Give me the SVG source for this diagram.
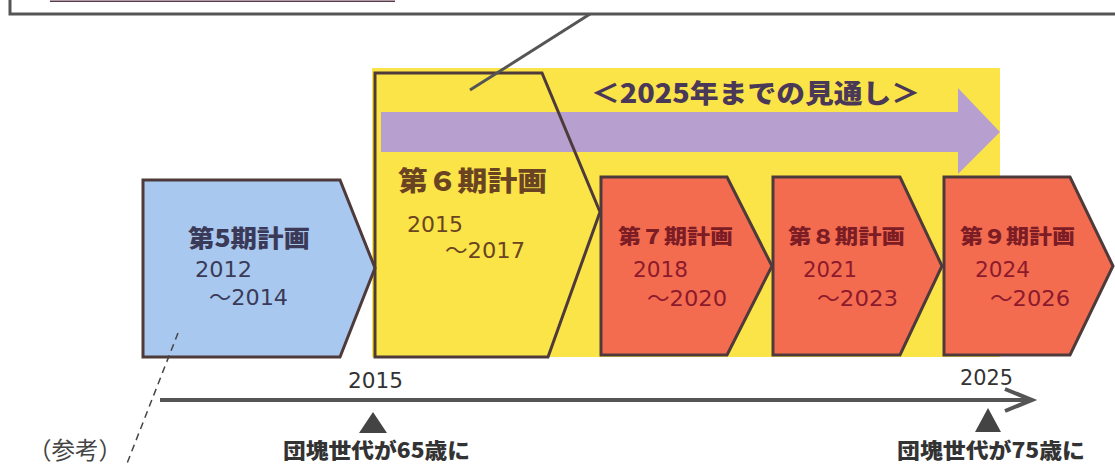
<svg xmlns="http://www.w3.org/2000/svg" width="1115" height="466" viewBox="0 0 1115 466">
<style>
.box{stroke:#4e3a3a;stroke-width:3;stroke-linejoin:miter}
.jp{font-family:"Noto Sans CJK JP","DejaVu Sans",sans-serif}
.num{font-family:"DejaVu Sans","Noto Sans CJK JP",sans-serif}
.b{font-weight:bold}
.h{font-weight:900}
.blueT{fill:#3a3a58}
.yelT{fill:#6a4422}
.redT{fill:#7c1c24}
.redN{fill:#8c1a2c}
.dark{fill:#333}
</style>
<rect width="1115" height="466" fill="#fff"/>
<g id="topbox">
<path d="M10,0 V14 H1115" fill="none" stroke="#555" stroke-width="3"/>
<line x1="50" y1="1.2" x2="395" y2="1.2" stroke="#5a3a4a" stroke-width="1.5"/>
</g>
<g id="outlook">
<rect x="372" y="68" width="628" height="289" fill="#fbe447"/>
<path d="M381,112 H958 V88 L1000,132 L958,174 V152 H381 Z" fill="#b7a0cf"/>
<text x="591" y="103" class="jp h" font-size="26" fill="#4a3858" textLength="329" lengthAdjust="spacingAndGlyphs">＜2025年までの見通し＞</text>
</g>
<g id="plan5">
<path class="box" d="M143,180 H340 L375,268 L340,357 H143 Z" fill="#a9c8ef"/>
<text x="188" y="247" class="jp h blueT" font-size="24" textLength="122" lengthAdjust="spacingAndGlyphs">第5期計画</text>
<text x="195" y="277" class="num blueT" font-size="22" textLength="57" lengthAdjust="spacingAndGlyphs">2012</text>
<text x="209" y="305" class="num blueT" font-size="22" textLength="79" lengthAdjust="spacingAndGlyphs">～2014</text>
</g>
<g id="plan6">
<path class="box" d="M375,73 H542 L600,212 L548,357 H375 Z" fill="none"/>
<text x="398" y="191" class="jp h yelT" font-size="27" textLength="149" lengthAdjust="spacingAndGlyphs">第６期計画</text>
<text x="407" y="232" class="num yelT" font-size="22" textLength="56" lengthAdjust="spacingAndGlyphs">2015</text>
<text x="445" y="258" class="num yelT" font-size="22" textLength="80" lengthAdjust="spacingAndGlyphs">～2017</text>
</g>
<g id="plan7">
<path class="box" d="M601,177 H727 L772,266 L727,355 H601 Z" fill="#f46c50"/>
<text x="618" y="244" class="jp h redT" font-size="20" textLength="115" lengthAdjust="spacingAndGlyphs">第７期計画</text>
<text x="633" y="277" class="num redN" font-size="22" textLength="55" lengthAdjust="spacingAndGlyphs">2018</text>
<text x="647" y="306" class="num redN" font-size="22" textLength="80" lengthAdjust="spacingAndGlyphs">～2020</text>
</g>
<g id="plan8">
<path class="box" d="M773,177 H900 L942,266 L900,355 H773 Z" fill="#f46c50"/>
<text x="788" y="244" class="jp h redT" font-size="20" textLength="117" lengthAdjust="spacingAndGlyphs">第８期計画</text>
<text x="803" y="277" class="num redN" font-size="22" textLength="54" lengthAdjust="spacingAndGlyphs">2021</text>
<text x="817" y="306" class="num redN" font-size="22" textLength="81" lengthAdjust="spacingAndGlyphs">～2023</text>
</g>
<g id="plan9">
<path class="box" d="M944,177 H1070 L1113,266 L1070,355 H944 Z" fill="#f46c50"/>
<text x="960" y="244" class="jp h redT" font-size="20" textLength="115" lengthAdjust="spacingAndGlyphs">第９期計画</text>
<text x="975" y="277" class="num redN" font-size="22" textLength="55" lengthAdjust="spacingAndGlyphs">2024</text>
<text x="990" y="306" class="num redN" font-size="22" textLength="80" lengthAdjust="spacingAndGlyphs">～2026</text>
</g>
<g id="connectors">
<line x1="590" y1="14" x2="470" y2="90" stroke="#555" stroke-width="3"/>
<line x1="178" y1="333" x2="126" y2="466" stroke="#444" stroke-width="1.5" stroke-dasharray="7,5"/>
<line x1="160" y1="400" x2="1028" y2="400" stroke="#555" stroke-width="4"/>
<polyline points="1005,389 1032,400 1005,411" fill="none" stroke="#555" stroke-width="4"/>
</g>
<g id="timeline-labels">
<text x="348" y="388" class="num dark" font-size="21" textLength="55" lengthAdjust="spacingAndGlyphs">2015</text>
<text x="960" y="385" class="num dark" font-size="21" textLength="53" lengthAdjust="spacingAndGlyphs">2025</text>
<polygon points="373,412 359,433 387,433" fill="#444"/>
<polygon points="988,408 975,432 1001,432" fill="#444"/>
<text x="283" y="458" class="jp h dark" font-size="21" textLength="187" lengthAdjust="spacingAndGlyphs">団塊世代が65歳に</text>
<text x="897" y="458" class="jp h dark" font-size="21" textLength="188" lengthAdjust="spacingAndGlyphs">団塊世代が75歳に</text>
<text x="28" y="459" class="jp" font-size="24" fill="#444" textLength="94" lengthAdjust="spacingAndGlyphs">（参考）</text>
</g>
</svg>
